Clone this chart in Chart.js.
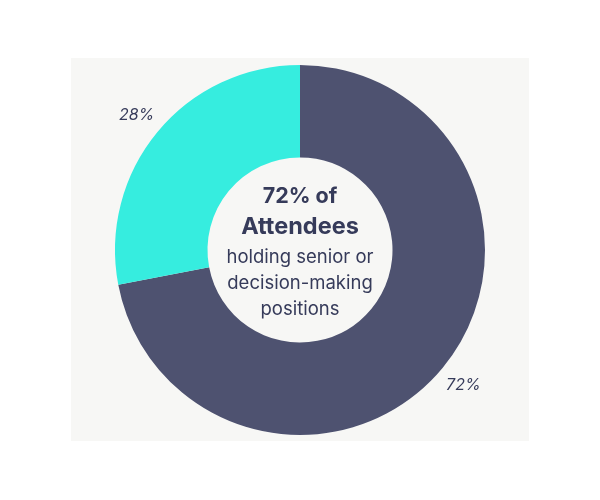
<!DOCTYPE html>
<html>
<head>
<meta charset="utf-8">
<script src="https://cdn.jsdelivr.net/npm/chart.js@4.4.0/dist/chart.umd.min.js"></script>
<style>
  html, body { margin: 0; padding: 0; background: #ffffff; }
  #wrap { width: 600px; height: 500px; position: relative; }
</style>
</head>
<body>
<div id="wrap"><canvas id="myChart" width="600" height="500"></canvas></div>
<script>
// Dados do gráfico
const labels = ['Senior / decision-making', 'Other'];
const values = [72, 28];
const sliceColors = ['#4E5270', '#36EDDF'];

// Texto do centro
const centerBold = ['72% of', 'Attendees'];
const centerText = ['holding senior or', 'decision-making', 'positions'];

const textColor = '#363b5a';
const fontName = 'Inter, "Open Sans", sans-serif';

// Painel cinza de fundo
const panelPlugin = {
    id: 'panel',
    beforeDraw(chart) {
        const ctx = chart.ctx;
        ctx.save();
        ctx.fillStyle = '#F7F7F5';
        ctx.fillRect(71, 58, 458, 383);
        ctx.restore();
    }
};

// Rótulos de porcentagem fora das fatias + texto central
const outsideLabels = {
    id: 'outsideLabels',
    afterDatasetsDraw(chart) {
        const ctx = chart.ctx;
        const meta = chart.getDatasetMeta(0);
        ctx.save();
        ctx.font = 'italic 16px ' + fontName;
        ctx.fillStyle = textColor;
        ctx.textAlign = 'center';
        ctx.textBaseline = 'middle';
        meta.data.forEach((arc, i) => {
            const p = arc.getProps(['x', 'y', 'startAngle', 'endAngle', 'outerRadius']);
            const mid = (p.startAngle + p.endAngle) / 2;
            const r = p.outerRadius + 27;
            ctx.fillText(values[i] + '%', p.x + Math.cos(mid) * r, p.y + Math.sin(mid) * r);
        });

        const cx = meta.data[0].x;
        const cy = meta.data[0].y;
        ctx.font = 'bold 21.5px ' + fontName;
        ctx.fillText(centerBold[0], cx, cy - 53);
        ctx.font = 'bold 23.5px ' + fontName;
        ctx.fillText(centerBold[1], cx, cy - 23);
        ctx.font = '18.5px ' + fontName;
        centerText.forEach((t, i) => {
            ctx.fillText(t, cx, cy + 7 + i * 26);
        });
        ctx.restore();
    }
};

var myChart = new Chart(document.getElementById('myChart'), {
    type: 'doughnut',
    data: {
        labels: labels,
        datasets: [{
            data: values,
            backgroundColor: sliceColors,
            borderWidth: 0
        }]
    },
    options: {
        responsive: false,
        animation: false,
        cutout: '50%',
        layout: { padding: { top: 65, bottom: 65 } },
        plugins: {
            legend: { display: false },
            tooltip: { enabled: false }
        }
    },
    plugins: [panelPlugin, outsideLabels]
});
</script>
</body>
</html>
